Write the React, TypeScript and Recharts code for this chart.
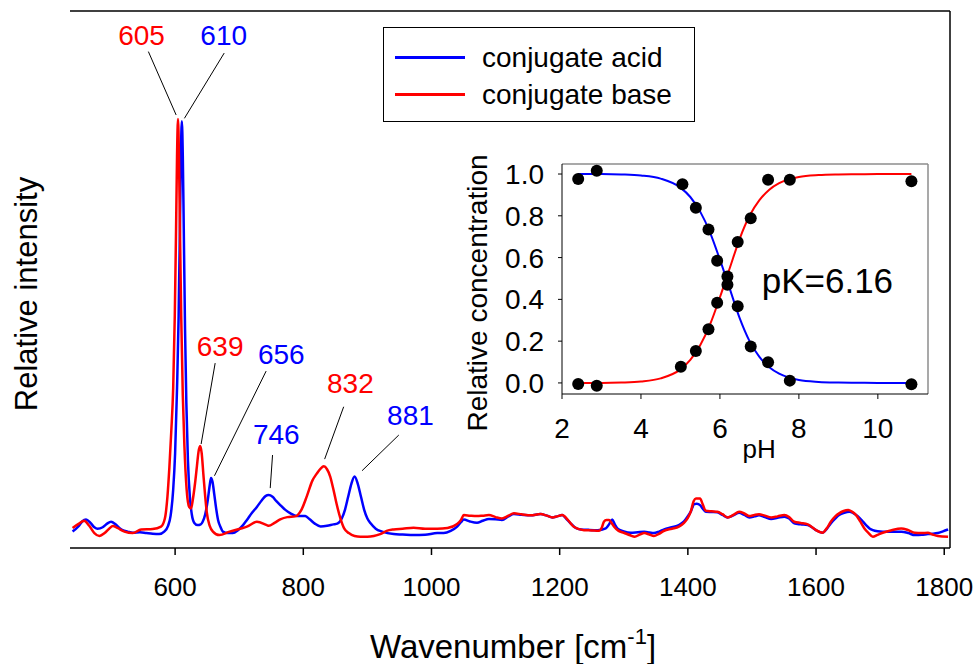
import {
  ComposedChart,
  Legend,
  Line,
  ReferenceDot,
  ReferenceLine,
  Scatter,
  XAxis,
  YAxis,
} from 'recharts'

const FONT = '"Liberation Sans", Arial, Helvetica, sans-serif'
const BLUE = '#0000ff'
const RED = '#ff0000'

// Raman spectra: wavenumber [cm-1] / relative intensity
const acidWavenumber = [
  440, 449, 455, 461, 468, 474, 479, 487, 494, 500, 507, 513, 518, 526, 534, 545, 555, 565, 575, 583,
  589, 593, 597, 600, 603, 605.5, 607.5, 609, 610.5, 612, 613.5, 615.5, 617.5, 620, 623, 626, 630, 635,
  640, 643, 647, 651, 654, 656, 658.5, 661, 664, 667, 671, 674.5, 682, 690, 698, 706, 712, 720, 727.6,
  735, 741, 746, 752, 758, 764, 772, 780, 790, 797, 803, 810, 818, 827, 837, 847, 853, 860, 865, 870,
  875, 880, 885, 890, 895, 900, 905, 913, 923, 941, 955, 972, 990, 1009, 1019, 1030, 1040, 1046, 1050.5,
  1060, 1071, 1080, 1089.6, 1100, 1110, 1120, 1128.6, 1140, 1154.7, 1170, 1180, 1188.6, 1196, 1204,
  1210, 1217, 1225, 1233, 1245, 1259, 1272, 1277, 1282, 1286, 1290, 1300, 1311, 1322, 1332, 1340, 1347,
  1355, 1363, 1375, 1386, 1394, 1399.5, 1404.7, 1410, 1414, 1419, 1423, 1428, 1437, 1446, 1454, 1462,
  1471, 1480, 1488, 1496, 1504, 1511, 1520, 1530, 1540, 1550.5, 1558, 1566, 1576, 1587, 1594, 1600, 1610,
  1617, 1623, 1630, 1636, 1644, 1652, 1658, 1665, 1672, 1678, 1684, 1688.6, 1696, 1704, 1718, 1733, 1744,
  1754, 1765, 1774.5, 1782, 1790, 1798, 1806,
]
const acidIntensity = [
  0.01, 0.045, 0.08, 0.094, 0.07, 0.04, 0.03, 0.04, 0.065, 0.078, 0.06, 0.035, 0.02, 0.01, 0.002, 0.005, 0,
  -0.005, -0.007, 0.01, 0.05, 0.12, 0.3, 0.55, 1.0, 1.5, 2.1, 2.6, 2.84, 2.6, 2.1, 1.4, 0.9, 0.5, 0.25, 0.13,
  0.07, 0.055, 0.06, 0.078, 0.13, 0.23, 0.33, 0.38, 0.35, 0.27, 0.17, 0.09, 0.04, 0.01, 0, 0, 0.02, 0.055,
  0.09, 0.14, 0.18, 0.225, 0.255, 0.262, 0.25, 0.22, 0.193, 0.16, 0.136, 0.118, 0.118, 0.117, 0.095, 0.065,
  0.046, 0.05, 0.06, 0.065, 0.1, 0.16, 0.25, 0.34, 0.39, 0.34, 0.25, 0.16, 0.1, 0.067, 0.03, 0.01, -0.007,
  -0.01, -0.014, -0.012, 0, 0, 0.015, 0.044, 0.075, 0.094, 0.08, 0.071, 0.085, 0.097, 0.095, 0.09, 0.115,
  0.131, 0.127, 0.122, 0.131, 0.12, 0.108, 0.115, 0.124, 0.1, 0.067, 0.035, 0.025, 0.022, 0.02, 0.032, 0.06,
  0.094, 0.06, 0.032, 0.012, 0.002, 0.006, 0.009, 0.004, 0, 0.01, 0.025, 0.04, 0.055, 0.08, 0.113, 0.15,
  0.2, 0.203, 0.193, 0.17, 0.147, 0.145, 0.143, 0.125, 0.108, 0.122, 0.14, 0.125, 0.108, 0.115, 0.122,
  0.11, 0.097, 0.105, 0.113, 0.1, 0.067, 0.06, 0.055, 0.038, 0.02, 0.002, 0.03, 0.067, 0.1, 0.124, 0.14,
  0.147, 0.138, 0.117, 0.085, 0.055, 0.03, 0.02, 0.012, 0.009, 0.009, 0.009, 0, -0.014, -0.012, -0.007,
  -0.005, 0, 0.012, 0.025,
]

const baseWavenumber = [
  440, 450, 458, 466, 474, 482, 490, 497, 503, 510, 521, 534, 547, 565, 578, 584, 588, 591, 594, 597,
  599.5, 601.5, 603, 604.5, 606, 607.5, 609.5, 612, 614.5, 618, 622, 625, 627.6, 631, 634, 636.5, 639,
  641.5, 644, 647, 649.5, 654, 659, 669, 685, 701.6, 712, 727.6, 743, 746, 755, 764, 775, 787.5, 797, 806,
  814, 821, 827, 832, 837, 842, 847, 852, 858, 864, 871, 880, 889, 900, 910, 920, 930, 941, 955, 972, 990,
  1009, 1025, 1040, 1046, 1050.5, 1060, 1071, 1080, 1089.6, 1100, 1110, 1120, 1128.6, 1140, 1154.7, 1170,
  1180, 1188.6, 1196, 1204, 1213, 1222, 1238, 1250, 1261, 1266, 1269, 1273, 1277, 1281, 1285, 1292, 1300,
  1310, 1317, 1325, 1332, 1340, 1347, 1355, 1363, 1375, 1386, 1394, 1399.5, 1404.7, 1409, 1412.5, 1419,
  1423, 1428, 1437, 1446, 1454, 1462, 1471, 1480, 1488, 1496, 1504, 1511, 1520, 1530, 1540, 1550.5, 1558,
  1566, 1576, 1587, 1594, 1600, 1610, 1617, 1623, 1630, 1636, 1643, 1650, 1656, 1662.5, 1669, 1675.5, 1682,
  1688.6, 1696, 1704, 1718, 1733, 1744, 1754, 1765, 1774.5, 1782, 1790, 1806,
]
const baseIntensity = [
  0.035, 0.065, 0.085, 0.05, 0, -0.02, 0, 0.03, 0.048, 0.035, 0.01, 0, 0.025, 0.028, 0.044, 0.1, 0.25, 0.45,
  0.7, 1.0, 1.5, 2.1, 2.6, 2.855, 2.6, 2.1, 1.5, 0.95, 0.6, 0.3, 0.18, 0.17, 0.23, 0.34, 0.46, 0.56, 0.6,
  0.55, 0.41, 0.25, 0.14, 0.05, 0.01, -0.014, 0.01, 0.03, 0.044, 0.078, 0.055, 0.05, 0.07, 0.094, 0.11,
  0.115, 0.16, 0.26, 0.36, 0.41, 0.445, 0.46, 0.44, 0.39, 0.3, 0.2, 0.1, 0.03, 0, -0.02, -0.025, -0.025,
  -0.02, -0.007, 0.015, 0.025, 0.03, 0.037, 0.03, 0.03, 0.035, 0.062, 0.09, 0.124, 0.12, 0.117, 0.12, 0.124,
  0.11, 0.101, 0.12, 0.136, 0.13, 0.122, 0.131, 0.12, 0.108, 0.115, 0.124, 0.09, 0.044, 0.02, 0.018, 0.016,
  0.04, 0.078, 0.09, 0.09, 0.07, 0.044, 0.015, 0.002, -0.015, -0.025, -0.01, 0, -0.01, -0.02, -0.005, 0.016,
  0.03, 0.044, 0.07, 0.101, 0.15, 0.22, 0.239, 0.239, 0.2, 0.154, 0.15, 0.147, 0.13, 0.108, 0.125, 0.147,
  0.135, 0.117, 0.125, 0.129, 0.12, 0.108, 0.115, 0.124, 0.11, 0.078, 0.07, 0.06, 0.04, 0.02, 0.002, 0.035,
  0.078, 0.115, 0.136, 0.152, 0.159, 0.148, 0.124, 0.08, 0.032, 0, -0.025, -0.012, 0.002, 0.02, 0.032, 0.02,
  0.002, 0, 0.002, -0.01, -0.02, -0.025,
]

const wavenumberTicks = [600, 800, 1000, 1200, 1400, 1600, 1800]
const intensityTicks = [0, 1, 2, 3]

// peak annotations (data units): text centre, leader line start/end
const peakLabels = [
  { text: '605', color: RED, at: [547.7, 3.434], from: [558.3, 3.32], to: [601.6, 2.883] },
  { text: '610', color: BLUE, at: [675.8, 3.434], from: [676.6, 3.31], to: [614.5, 2.86] },
  { text: '639', color: RED, at: [670.3, 1.29], from: [662.5, 1.172], to: [640.6, 0.614] },
  { text: '656', color: BLUE, at: [765.6, 1.234], from: [742, 1.117], to: [661.4, 0.395] },
  { text: '746', color: BLUE, at: [757.8, 0.683], from: [752, 0.538], to: [748.4, 0.31] },
  { text: '832', color: RED, at: [873.4, 1.034], from: [863, 0.871], to: [833.3, 0.51] },
  { text: '881', color: BLUE, at: [967.2, 0.814], from: [949, 0.676], to: [891.7, 0.43] },
]

// inset: titration
const fitPh = [2.4, 3, 3.5, 4, 4.5, 5, 5.25, 5.5, 5.75, 6, 6.25, 6.5, 6.75, 7, 7.25, 7.5, 8, 8.5, 9, 9.5, 10, 10.85]
const fitAcid = [1, 1, 0.998, 0.993, 0.978, 0.935, 0.89, 0.82, 0.72, 0.59, 0.45, 0.31, 0.2, 0.125, 0.075, 0.044, 0.014, 0.005, 0.002, 0.001, 0, 0]
const fitBase = [0, 0, 0.002, 0.007, 0.022, 0.065, 0.11, 0.18, 0.28, 0.41, 0.55, 0.69, 0.8, 0.875, 0.925, 0.956, 0.986, 0.995, 0.998, 0.999, 1, 1]

const pointPh = [
  2.41, 2.88, 5.05, 5.39, 5.71, 5.93, 6.19, 6.45, 6.78, 7.22, 7.77, 10.85,
  2.41, 2.88, 5.01, 5.39, 5.71, 5.93, 6.19, 6.45, 6.78, 7.22, 7.77, 10.85,
]
const pointConc = [
  0.976, 1.016, 0.951, 0.839, 0.735, 0.585, 0.47, 0.367, 0.174, 0.099, 0.011, -0.006,
  -0.005, -0.014, 0.078, 0.153, 0.257, 0.384, 0.51, 0.675, 0.788, 0.973, 0.973, 0.965,
]
const phTicks = [2, 4, 6, 8, 10]
const concTicks = [0, 0.2, 0.4, 0.6, 0.8, 1.0]

const acidSeries = acidWavenumber.map((w, i) => ({ w, v: acidIntensity[i] }))
const baseSeries = baseWavenumber.map((w, i) => ({ w, v: baseIntensity[i] }))
const acidFit = fitPh.map((ph, i) => ({ ph, c: fitAcid[i] }))
const baseFit = fitPh.map((ph, i) => ({ ph, c: fitBase[i] }))
const points = pointPh.map((ph, i) => ({ ph, c: pointConc[i] }))

const X_DOMAIN: [number, number] = [436, 1809]
const Y_DOMAIN: [number, number] = [-0.103, 3.6]
const PH_DOMAIN: [number, number] = [2, 11.27]
const C_DOMAIN: [number, number] = [-0.053, 1.048]

function LegendBox(props: any) {
  const items = props.payload || []
  return (
    <div
      style={{
        width: 312,
        height: 95,
        boxSizing: 'border-box',
        border: '1.5px solid #000',
        background: '#fff',
        padding: '11px 0 0 11px',
        fontFamily: FONT,
      }}
    >
      {items.map((it: any) => (
        <div key={it.value} style={{ display: 'flex', alignItems: 'center', height: 37 }}>
          <span style={{ width: 70, height: 2.5, background: it.color, marginRight: 17 }} />
          <span style={{ fontSize: 28, lineHeight: 1, color: '#000' }}>{it.value}</span>
        </div>
      ))}
    </div>
  )
}

function Inset() {
  return (
    <ComposedChart
      width={520}
      height={350}
      margin={{ top: 34, right: 32, bottom: 26, left: 42 }}
    >
      <XAxis
        type="number"
        dataKey="ph"
        domain={PH_DOMAIN}
        ticks={phTicks}
        allowDataOverflow
        height={60}
        tickSize={5}
        tickMargin={19}
        stroke="#000"
        tick={{ fill: '#000', fontSize: 28 }}
      />
      <YAxis
        type="number"
        dataKey="c"
        domain={C_DOMAIN}
        ticks={concTicks}
        allowDataOverflow
        width={80}
        tickSize={4}
        tickMargin={14}
        stroke="#000"
        tickFormatter={(v: number) => v.toFixed(1)}
        tick={{ fill: '#000', fontSize: 28 }}
      />
      <ReferenceLine y={C_DOMAIN[1]} stroke="#8c8c8c" strokeWidth={1.5} />
      <ReferenceLine x={PH_DOMAIN[1]} stroke="#8c8c8c" strokeWidth={1.5} />
      <Line data={acidFit} dataKey="c" type="monotone" stroke={BLUE} strokeWidth={2} dot={false} isAnimationActive={false} />
      <Line data={baseFit} dataKey="c" type="monotone" stroke={RED} strokeWidth={2} dot={false} isAnimationActive={false} />
      <Scatter
        data={points}
        fill="#000"
        isAnimationActive={false}
        shape={(p: any) => <circle cx={p.cx} cy={p.cy} r={6} fill="#000" />}
      />
      <text x={321.7} y={163.3} fontSize={35} fill="#000">pK=6.16</text>
      <text x={319.2} y={328} fontSize={26} fill="#000" textAnchor="middle">pH</text>
      <text transform="translate(46.7,163) rotate(-90)" fontSize={28} fill="#000" textAnchor="middle">
        Relative concentration
      </text>
    </ComposedChart>
  )
}

export default function App() {
  return (
    <div
      style={{
        position: 'absolute',
        left: 0,
        top: 0,
        width: 979,
        height: 664,
        background: '#fff',
        fontFamily: FONT,
      }}
    >
      <ComposedChart width={979} height={664} margin={{ top: 11, right: 29, bottom: 46, left: 70 }}>
        <XAxis
          type="number"
          dataKey="w"
          domain={X_DOMAIN}
          ticks={wavenumberTicks}
          allowDataOverflow
          height={70}
          tickSize={7}
          tickMargin={23}
          stroke="#000"
          strokeWidth={1.5}
          tick={{ fill: '#000', fontSize: 26 }}
        />
        <YAxis
          type="number"
          domain={Y_DOMAIN}
          ticks={intensityTicks}
          allowDataOverflow
          width={0}
          mirror
          tick={false}
          tickSize={4}
          stroke="#000"
          strokeWidth={1.5}
        />
        <ReferenceLine y={Y_DOMAIN[1]} stroke="#000" strokeWidth={1.5} />
        <ReferenceLine x={X_DOMAIN[1]} stroke="#000" strokeWidth={1.5} />
        <Legend
          layout="horizontal"
          verticalAlign="middle"
          align="center"
          content={<LegendBox />}
          wrapperStyle={{ left: 383, top: 27, width: 312, height: 95 }}
        />
        <Line
          name="conjugate acid"
          data={acidSeries}
          dataKey="v"
          type="monotone"
          stroke={BLUE}
          strokeWidth={2.5}
          dot={false}
          isAnimationActive={false}
        />
        <Line
          name="conjugate base"
          data={baseSeries}
          dataKey="v"
          type="monotone"
          stroke={RED}
          strokeWidth={2.5}
          dot={false}
          isAnimationActive={false}
        />
        {peakLabels.map((p) => (
          <ReferenceLine
            key={'l' + p.text}
            segment={[
              { x: p.from[0], y: p.from[1] },
              { x: p.to[0], y: p.to[1] },
            ]}
            stroke="#000"
            strokeWidth={1}
          />
        ))}
        {peakLabels.map((p) => (
          <ReferenceDot
            key={'t' + p.text}
            x={p.at[0]}
            y={p.at[1]}
            r={0}
            stroke="none"
            fill="none"
            label={{ value: p.text, position: 'center', fill: p.color, fontSize: 28 }}
          />
        ))}
        <text x={513} y={658} fontSize={33} fill="#000" textAnchor="middle">
          Wavenumber [cm
          <tspan dy={-14} fontSize={22}>-1</tspan>
          <tspan dy={14}>]</tspan>
        </text>
        <text transform="translate(37,294) rotate(-90)" fontSize={31} fill="#000" textAnchor="middle">
          Relative intensity
        </text>
      </ComposedChart>
      <div style={{ position: 'absolute', left: 440, top: 130 }}>
        <Inset />
      </div>
    </div>
  )
}
